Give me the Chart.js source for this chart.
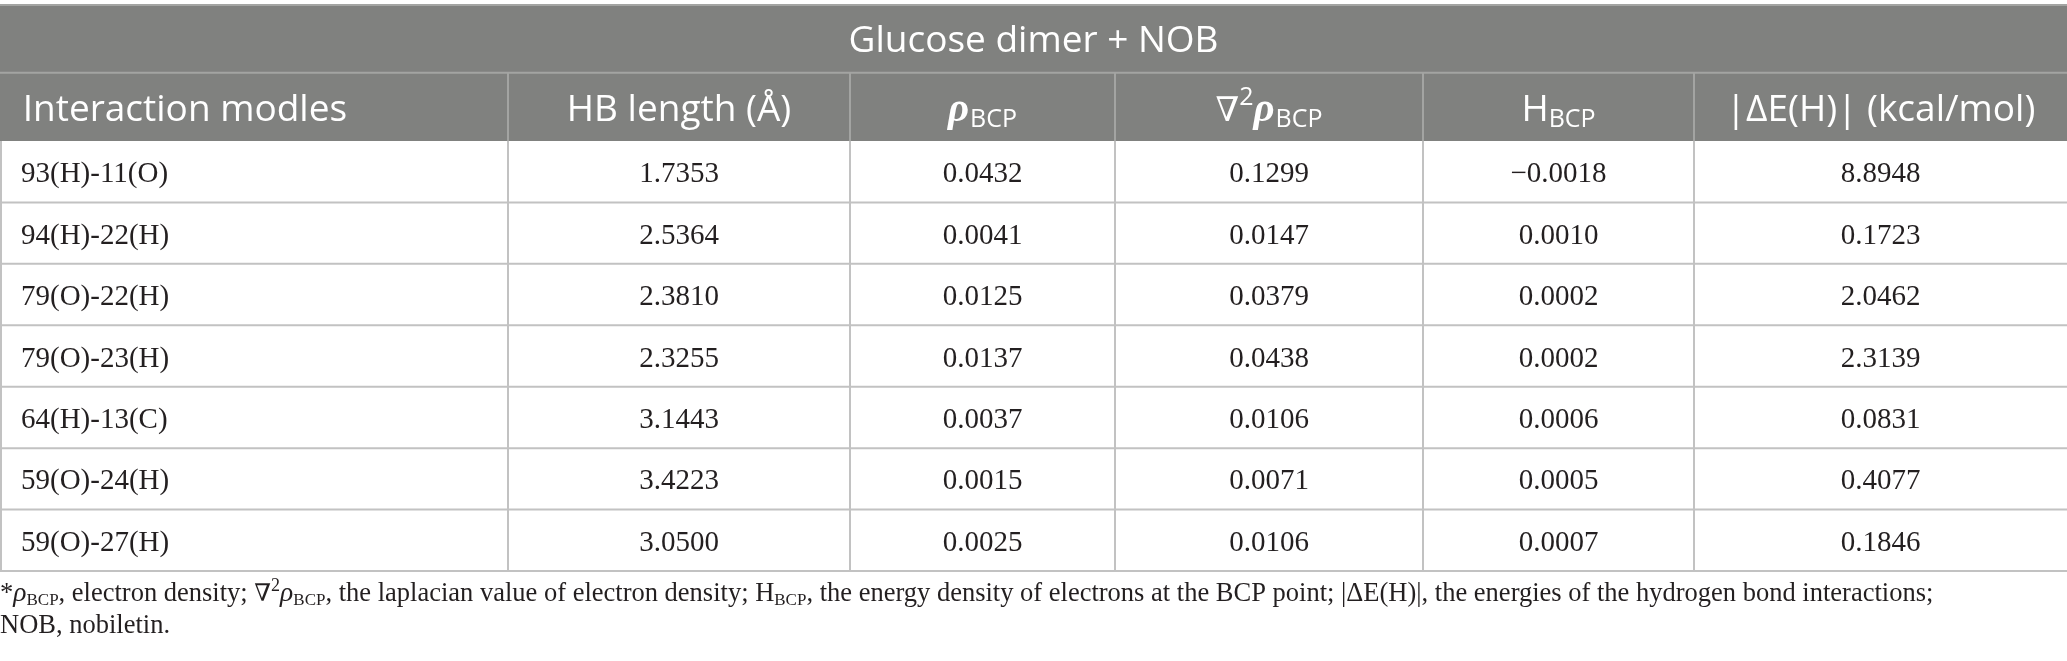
<!DOCTYPE html>
<html><head><meta charset="utf-8">
<script src="https://cdn.jsdelivr.net/npm/chart.js@4.4.0/dist/chart.umd.min.js"></script>
<style>html,body{margin:0;padding:0;background:#fff;overflow:hidden}#wrap{width:2067px;height:661px;position:relative}</style>
</head><body><div id="wrap"><canvas id="c"></canvas></div>
<script>
// ---------- DATA ----------
const title = 'Glucose dimer + NOB';
const columnHeaders = ['Interaction modles', 'HB length (Å)', 'ρ_{BCP}', '∇^{2}ρ_{BCP}', 'H_{BCP}', '|ΔE(H)| (kcal/mol)'];
const interactions = ['93(H)-11(O)', '94(H)-22(H)', '79(O)-22(H)', '79(O)-23(H)', '64(H)-13(C)', '59(O)-24(H)', '59(O)-27(H)'];
const hbLength   = [1.7353, 2.5364, 2.3810, 2.3255, 3.1443, 3.4223, 3.0500];
const rhoBCP     = [0.0432, 0.0041, 0.0125, 0.0137, 0.0037, 0.0015, 0.0025];
const lapRhoBCP  = [0.1299, 0.0147, 0.0379, 0.0438, 0.0106, 0.0071, 0.0106];
const hBCP       = [-0.0018, 0.0010, 0.0002, 0.0002, 0.0006, 0.0005, 0.0007];
const deltaE     = [8.8948, 0.1723, 2.0462, 2.3139, 0.0831, 0.4077, 0.1846];
const footnoteLines = [
  '*ρ_{BCP}, electron density; ∇^{2}ρ_{BCP}, the laplacian value of electron density; H_{BCP}, the energy density of electrons at the BCP point; |ΔE(H)|, the energies of the hydrogen bond interactions;',
  'NOB, nobiletin.'
];

// ---------- LAYOUT (pixels) ----------
const W = 2067, H = 661;
const L = {
  colEdges: [0, 508, 850, 1115, 1423, 1694, 2067],
  tableTop: 4, titleBottom: 72.7, dataTop: 141, rowH: 61.43,
  firstColPad: 21, headPad: 22.7,
  footBaselines: [601, 633]
};
const toRow = px => (px - L.dataTop) / L.rowH;   // pixel -> y-scale value (row units)

const valueColumns = [hbLength, rhoBCP, lapRhoBCP, hBCP, deltaE];
const fmt = v => (v < 0 ? '\u2212' : '') + Math.abs(v).toFixed(4);

const datasets = [];
datasets.push({ label: columnHeaders[0], kind: 'label', col: 0,
  data: interactions.map((t, i) => ({ x: L.colEdges[0] + L.firstColPad, y: i + 0.5, text: t })),
  pointRadius: 0 });
valueColumns.forEach((arr, c) => {
  const col = c + 1;
  datasets.push({ label: columnHeaders[col], kind: 'value', col,
    data: arr.map((v, i) => ({ x: (L.colEdges[col] + L.colEdges[col + 1]) / 2, y: i + 0.5, text: fmt(v) })),
    pointRadius: 0 });
});

// ---------- rich text ----------
function parseRich(str) {
  const runs = []; let buf = ''; let i = 0;
  const push = (t, k) => { if (t) runs.push({ t, k }); };
  while (i < str.length) {
    const ch = str[i];
    if ((ch === '_' || ch === '^') && str[i + 1] === '{') {
      push(buf, 'n'); buf = '';
      const end = str.indexOf('}', i);
      push(str.slice(i + 2, end), ch === '_' ? 'sub' : 'sup');
      i = end + 1; continue;
    }
    if (ch === 'ρ') { push(buf, 'n'); buf = ''; push('ρ', 'greek'); i++; continue; }
    if (ch === '∇') { push(buf, 'n'); buf = ''; push('∇', 'nabla'); i++; continue; }
    buf += ch; i++;
  }
  push(buf, 'n');
  return runs;
}
function drawRich(ctx, str, x, y, align, st) {
  const runs = parseRich(str);
  const f = { n: st.base, sub: st.sub, sup: st.sup, greek: st.greek, nabla: st.nabla };
  const dy = k => k === 'sub' ? st.subDy : k === 'sup' ? st.supDy : 0;
  let w = 0;
  runs.forEach(r => { ctx.font = f[r.k]; r.w = ctx.measureText(r.t).width + (r.k === 'greek' ? (st.greekGap || 0) : 0); w += r.w; });
  let cx = align === 'center' ? x - w / 2 : align === 'right' ? x - w : x;
  ctx.textAlign = 'left'; ctx.textBaseline = 'alphabetic'; ctx.fillStyle = st.color;
  runs.forEach(r => { ctx.font = f[r.k]; ctx.fillText(r.t, cx, y + dy(r.k)); cx += r.w; });
}
const headStyle = {
  base: '37px "Open Sans"', sub: '25px "Open Sans"', sup: '25px "Open Sans"',
  greek: 'bold italic 41px "Liberation Serif"', nabla: '34px "DejaVu Serif"',
  subDy: 6, supDy: -16, color: '#ffffff', greekGap: 1
};
const footStyle = {
  base: '26.5px "Liberation Serif"', sub: '17px "Liberation Serif"', sup: '18px "Liberation Serif"',
  greek: 'italic 27.5px "Liberation Serif"', nabla: '24px "DejaVu Serif"',
  subDy: 4, supDy: -10, color: '#231f20'
};

const tablePlugin = {
  id: 'table',
  beforeDatasetsDraw(chart) {
    const ctx = chart.ctx, xs = chart.scales.x, ys = chart.scales.y;
    const X = v => xs.getPixelForValue(v), Y = v => ys.getPixelForValue(v);
    const n = interactions.length;
    const x0 = X(L.colEdges[0]), x1 = X(L.colEdges[L.colEdges.length - 1]);
    const yTop = Y(toRow(L.tableTop)), yTitle = Y(toRow(L.titleBottom)), yData = Y(0), yEnd = Y(n);
    ctx.save();
    ctx.fillStyle = '#ffffff'; ctx.fillRect(0, 0, chart.width, chart.height);
    ctx.fillStyle = '#80817f';
    ctx.fillRect(x0, yTop, x1 - x0, yData - yTop);
    ctx.lineWidth = 2;
    ctx.strokeStyle = '#a3a4a2';
    ctx.beginPath();
    ctx.moveTo(x0, yTop + 1); ctx.lineTo(x1, yTop + 1);
    ctx.moveTo(x0, yTitle); ctx.lineTo(x1, yTitle);
    for (let c = 1; c < L.colEdges.length - 1; c++) { const x = X(L.colEdges[c]); ctx.moveTo(x, yTitle); ctx.lineTo(x, yData); }
    ctx.stroke();
    ctx.strokeStyle = '#c2c2c2';
    ctx.beginPath();
    for (let i = 1; i <= n; i++) { const y = Y(i); ctx.moveTo(x0, y); ctx.lineTo(x1, y); }
    for (let c = 1; c < L.colEdges.length - 1; c++) { const x = X(L.colEdges[c]); ctx.moveTo(x, yData); ctx.lineTo(x, yEnd); }
    ctx.moveTo(x0 + 1, yData); ctx.lineTo(x0 + 1, yEnd);
    ctx.stroke();
    ctx.restore();
  },
  afterDatasetsDraw(chart) {
    const ctx = chart.ctx, xs = chart.scales.x, ys = chart.scales.y;
    const X = v => xs.getPixelForValue(v), Y = v => ys.getPixelForValue(v);
    ctx.save();
    const yTop = Y(toRow(L.tableTop)), yTitle = Y(toRow(L.titleBottom)), yData = Y(0);
    drawRich(ctx, title, (X(L.colEdges[0]) + X(L.colEdges[L.colEdges.length - 1])) / 2, (yTop + yTitle) / 2 + 13.5, 'center', headStyle);
    const hb = (yTitle + yData) / 2 + 14;
    columnHeaders.forEach((h, c) => {
      if (c === 0) drawRich(ctx, h, X(L.colEdges[0]) + L.headPad, hb, 'left', headStyle);
      else drawRich(ctx, h, (X(L.colEdges[c]) + X(L.colEdges[c + 1])) / 2, hb, 'center', headStyle);
    });
    ctx.fillStyle = '#231f20';
    ctx.font = '29px "Liberation Serif"';
    ctx.textBaseline = 'alphabetic';
    chart.data.datasets.forEach((ds, di) => {
      const meta = chart.getDatasetMeta(di);
      ctx.textAlign = ds.kind === 'label' ? 'left' : 'center';
      meta.data.forEach((el, i) => { ctx.fillText(ds.data[i].text, el.x, el.y + 10.5); });
    });
    footnoteLines.forEach((t, i) => drawRich(ctx, t, X(0), Y(toRow(L.footBaselines[i])), 'left', footStyle));
    ctx.restore();
  }
};

new Chart(document.getElementById('c'), {
  type: 'scatter',
  data: { datasets },
  options: {
    responsive: true, maintainAspectRatio: false, animation: false,
    layout: { padding: 0 },
    plugins: { legend: { display: false }, tooltip: { enabled: false } },
    events: [],
    scales: {
      x: { type: 'linear', min: 0, max: W, display: false },
      y: { type: 'linear', min: toRow(0), max: toRow(H), reverse: true, display: false }
    }
  },
  plugins: [tablePlugin]
});
</script></body></html>
